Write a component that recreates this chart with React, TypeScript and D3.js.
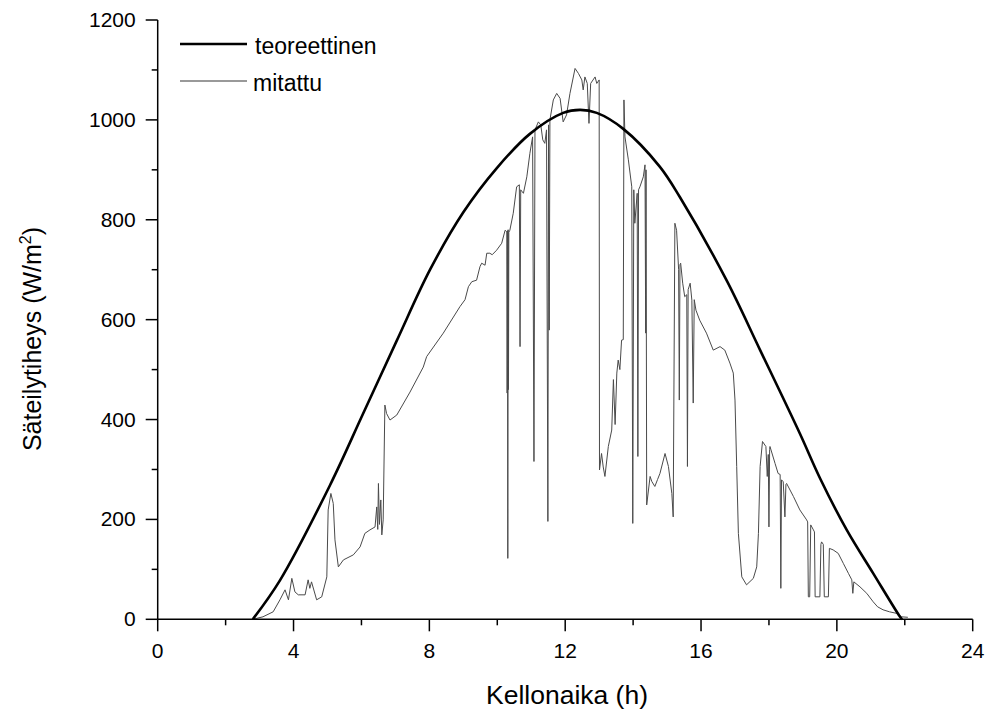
import React from "react";
import * as d3 from "d3";

const theoT = [2.8, 3.6, 5.07, 6.05, 7.04, 8.02, 9.0, 9.98, 10.96, 11.94, 12.44, 12.93, 13.71, 14.79, 15.38, 16.75, 17.74, 18.91, 19.5, 20.29, 21.07, 21.86, 21.92];
const theoV = [0, 78, 268, 412, 558, 700, 815, 903, 972, 1014, 1020, 1014, 982, 906, 845, 679, 539, 372, 283, 179, 92, 5, 0];

const measT = [
  2.8, 3.1, 3.4, 3.6, 3.75, 3.85, 3.95, 4.04, 4.14, 4.34, 4.43, 4.48, 4.53, 4.68, 4.83, 4.98, 5.02, 5.1, 5.17, 5.22,
  5.32, 5.47, 5.76, 5.96, 6.1, 6.25, 6.4, 6.45, 6.48, 6.5, 6.53, 6.57, 6.6, 6.64, 6.69, 6.74, 6.84, 7.04, 7.43, 7.82,
  7.92, 8.41, 8.9, 9.05, 9.15, 9.25, 9.39, 9.49, 9.54, 9.64, 9.69, 9.78, 9.85, 9.98, 10.13, 10.23, 10.28, 10.29, 10.3, 10.31,
  10.32, 10.33, 10.34, 10.37, 10.47, 10.57, 10.65, 10.67, 10.69, 10.77, 10.87, 10.96, 11.04, 11.08, 11.11, 11.21, 11.28, 11.34, 11.4, 11.45,
  11.49, 11.51, 11.53, 11.55, 11.65, 11.75, 11.85, 11.94, 12.04, 12.14, 12.29, 12.39, 12.49, 12.53, 12.58, 12.65, 12.7, 12.75, 12.88, 12.93,
  13.0, 13.01, 13.07, 13.12, 13.17, 13.27, 13.37, 13.42, 13.47, 13.52, 13.56, 13.61, 13.66, 13.71, 13.73, 13.76, 13.86, 13.96, 13.99, 14.02,
  14.05, 14.12, 14.14, 14.16, 14.2, 14.3, 14.35, 14.37, 14.38, 14.4, 14.5, 14.55, 14.64, 14.72, 14.79, 14.94, 15.04, 15.14, 15.18, 15.23,
  15.28, 15.34, 15.36, 15.38, 15.4, 15.46, 15.52, 15.58, 15.6, 15.62, 15.68, 15.73, 15.77, 15.8, 15.85, 15.96, 16.16, 16.36, 16.56, 16.7,
  16.85, 16.95, 17.0, 17.05, 17.1, 17.2, 17.34, 17.54, 17.64, 17.69, 17.74, 17.81, 17.91, 17.95, 17.98, 18.0, 18.02, 18.03, 18.18, 18.27,
  18.33, 18.35, 18.37, 18.42, 18.47, 18.5, 18.52, 18.72, 18.91, 19.11, 19.14, 19.16, 19.2, 19.23, 19.31, 19.34, 19.36, 19.5, 19.53, 19.55,
  19.6, 19.63, 19.75, 19.78, 19.89, 20.04, 20.19, 20.34, 20.44, 20.47, 20.5, 20.68, 20.88, 21.07, 21.2, 21.36, 21.55, 21.75, 21.9, 22.09
];
const measV = [
  0, 5, 15, 39, 59, 39, 82, 55, 49, 49, 79, 62, 75, 39, 45, 85, 219, 252, 232, 159,
  105, 119, 129, 145, 172, 179, 185, 225, 180, 272, 190, 239, 169, 199, 429, 412, 399, 409, 455, 505,
  526, 573, 626, 640, 666, 676, 679, 706, 713, 709, 733, 733, 730, 739, 753, 779, 776, 453, 778, 122,
  780, 460, 775, 779, 813, 866, 870, 546, 860, 853, 886, 933, 966, 316, 980, 996, 990, 960, 953, 980,
  196, 990, 579, 1000, 1040, 1053, 1043, 996, 1010, 1053, 1103, 1093, 1080, 1060, 1086, 1073, 993, 1073, 1086, 1073,
  1080, 299, 332, 305, 286, 346, 379, 480, 390, 493, 519, 500, 559, 560, 1040, 966, 920, 866, 192, 860,
  793, 853, 326, 860, 866, 886, 910, 573, 900, 229, 286, 276, 266, 280, 292, 332, 306, 252, 205, 793,
  779, 700, 439, 710, 713, 673, 646, 650, 306, 660, 673, 639, 433, 640, 619, 599, 573, 539, 546, 539,
  513, 493, 439, 306, 172, 85, 69, 82, 105, 172, 306, 356, 346, 286, 330, 185, 340, 346, 312, 292,
  290, 62, 279, 276, 205, 270, 272, 246, 219, 199, 195, 45, 45, 189, 179, 175, 45, 45, 150, 155,
  150, 45, 45, 142, 139, 132, 112, 92, 79, 52, 75, 65, 52, 35, 25, 19, 15, 12, 5, 4
];

const xMajor = [0, 4, 8, 12, 16, 20, 24];
const xMinor = [2, 6, 10, 14, 18, 22];
const yMajor = [0, 200, 400, 600, 800, 1000, 1200];
const yMinor = [100, 300, 500, 700, 900, 1100];

const legendLabels = ["teoreettinen", "mitattu"];

const FONT = "'Liberation Sans', Arial, sans-serif";

export default function App() {
  const x = d3.scaleLinear().domain([0, 24]).range([157.7, 972.7]);
  const y = d3.scaleLinear().domain([0, 1200]).range([619.3, 20]);
  const theoPath = d3.line<number>()
    .x((_, i) => x(theoT[i]))
    .y((v) => y(v))
    .curve(d3.curveCatmullRom.alpha(0.5))(theoV) as string;
  const measPath = d3.line<number>()
    .x((_, i) => x(measT[i]))
    .y((v) => y(v))(measV) as string;

  const x0 = x(0);
  const yb = y(0);

  return (
    <svg width={989} height={713} style={{ position: "absolute", left: 0, top: 0, background: "#fff" }} fontFamily={FONT}>
      <rect x={0} y={0} width={989} height={713} fill="#fff" />
      <path d={measPath} fill="none" stroke="#4a4a4a" strokeWidth={1} />
      <path d={theoPath} fill="none" stroke="#000" strokeWidth={2.6} strokeLinejoin="round" />
      <line x1={x0} x2={x0} y1={y(1200)} y2={yb} stroke="#000" strokeWidth={1.5} />
      <line x1={x0} x2={x(24)} y1={yb} y2={yb} stroke="#000" strokeWidth={1.5} />
      {yMajor.map((v) => (
        <g key={"ym" + v}>
          <line x1={x0 - 12} x2={x0} y1={y(v)} y2={y(v)} stroke="#000" strokeWidth={1.5} />
          <text x={x0 - 22} y={y(v) + 7} textAnchor="end" fontSize={21}>{v}</text>
        </g>
      ))}
      {yMinor.map((v) => (
        <line key={"yn" + v} x1={x0 - 6} x2={x0} y1={y(v)} y2={y(v)} stroke="#000" strokeWidth={1.5} />
      ))}
      {xMajor.map((v) => (
        <g key={"xm" + v}>
          <line x1={x(v)} x2={x(v)} y1={yb} y2={yb + 12} stroke="#000" strokeWidth={1.5} />
          <text x={x(v)} y={658} textAnchor="middle" fontSize={21}>{v}</text>
        </g>
      ))}
      {xMinor.map((v) => (
        <line key={"xn" + v} x1={x(v)} x2={x(v)} y1={yb} y2={yb + 6} stroke="#000" strokeWidth={1.5} />
      ))}
      <text x={567} y={704} textAnchor="middle" fontSize={26.5}>Kellonaika (h)</text>
      <text transform="translate(41,339) rotate(-90)" textAnchor="middle" fontSize={25}>
        Säteilytiheys (W/m<tspan dy={-10} fontSize={16}>2</tspan><tspan dy={10}>)</tspan>
      </text>
      <line x1={180} x2={247} y1={44} y2={44} stroke="#000" strokeWidth={2.6} />
      <text x={255} y={54} fontSize={23}>{legendLabels[0]}</text>
      <line x1={180} x2={247} y1={81} y2={81} stroke="#777" strokeWidth={1.5} />
      <text x={253} y={91} fontSize={23}>{legendLabels[1]}</text>
    </svg>
  );
}
